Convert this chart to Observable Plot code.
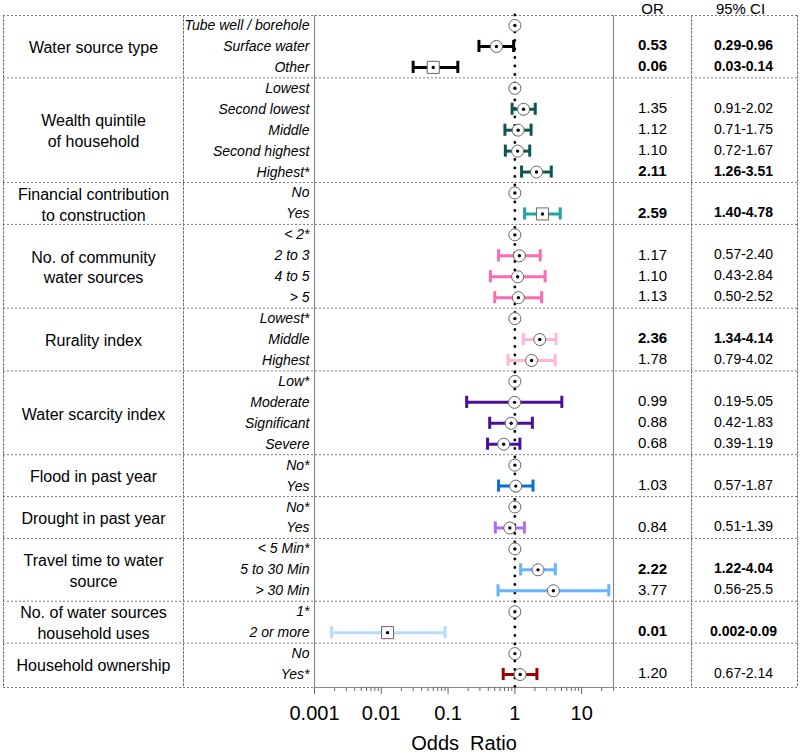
<!DOCTYPE html>
<html><head><meta charset="utf-8">
<script src="https://cdn.jsdelivr.net/npm/d3@7"></script>
<script src="https://cdn.jsdelivr.net/npm/@observablehq/plot@0.6"></script>
<style>html,body{margin:0;padding:0;background:#fff}</style>
</head><body><div id="chart"></div>
<script>
// ---- data ----
const groups = ["Water source type", "Wealth quintile\nof household", "Financial contribution\nto construction",
  "No. of community\nwater sources", "Rurality index", "Water scarcity index", "Flood in past year",
  "Drought in past year", "Travel time to water\nsource", "No. of water sources\nhousehold uses", "Household ownership"];
const groupSizes = [3, 5, 2, 4, 3, 4, 2, 2, 3, 2, 2];
const groupColors = ["#000000", "#0e5656", "#1fa3a3", "#ff69b4", "#ffb6d9", "#4b1099", "#0a6fd6", "#b06cf7", "#66b3ff", "#b8dcff", "#9b0000"];
const levels = ["Tube well / borehole", "Surface water", "Other",
  "Lowest", "Second lowest", "Middle", "Second highest", "Highest*",
  "No", "Yes",
  "< 2*", "2 to 3", "4 to 5", "> 5",
  "Lowest*", "Middle", "Highest",
  "Low*", "Moderate", "Significant", "Severe",
  "No*", "Yes",
  "No*", "Yes",
  "< 5 Min*", "5 to 30 Min", "> 30 Min",
  "1*", "2 or more",
  "No", "Yes*"];
const orValues = [1, 0.53, 0.06, 1, 1.35, 1.12, 1.10, 2.11, 1, 2.59, 1, 1.17, 1.10, 1.13, 1, 2.36, 1.78,
  1, 0.99, 0.88, 0.68, 1, 1.03, 1, 0.84, 1, 2.22, 3.77, 1, 0.0124, 1, 1.20];
const ciLow = [null, 0.29, 0.03, null, 0.91, 0.71, 0.72, 1.26, null, 1.40, null, 0.57, 0.43, 0.50, null, 1.34, 0.79,
  null, 0.19, 0.42, 0.39, null, 0.57, null, 0.51, null, 1.22, 0.56, null, 0.0018, null, 0.67];
const ciHigh = [null, 0.96, 0.14, null, 2.02, 1.75, 1.67, 3.51, null, 4.78, null, 2.40, 2.84, 2.52, null, 4.14, 4.02,
  null, 5.05, 1.83, 1.19, null, 1.87, null, 1.39, null, 4.04, 25.5, null, 0.09, null, 2.14];
const orLabels = ["", "0.53", "0.06", "", "1.35", "1.12", "1.10", "2.11", "", "2.59", "", "1.17", "1.10", "1.13",
  "", "2.36", "1.78", "", "0.99", "0.88", "0.68", "", "1.03", "", "0.84", "", "2.22", "3.77", "", "0.01", "", "1.20"];
const ciLabels = ["", "0.29-0.96", "0.03-0.14", "", "0.91-2.02", "0.71-1.75", "0.72-1.67", "1.26-3.51", "", "1.40-4.78",
  "", "0.57-2.40", "0.43-2.84", "0.50-2.52", "", "1.34-4.14", "0.79-4.02", "", "0.19-5.05", "0.42-1.83", "0.39-1.19",
  "", "0.57-1.87", "", "0.51-1.39", "", "1.22-4.04", "0.56-25.5", "", "0.002-0.09", "", "0.67-2.14"];
const significant = [false, true, true, false, false, false, false, true, false, true, false, false, false, false,
  false, true, false, false, false, false, false, false, false, false, false, false, true, false, false, true, false, false];
const markerShapes = ["circle", "circle", "square", "circle", "circle", "circle", "circle", "circle", "circle", "square",
  "circle", "circle", "circle", "circle", "circle", "circle", "circle", "circle", "circle", "circle", "circle",
  "circle", "circle", "circle", "circle", "circle", "circle", "circle", "circle", "square", "circle", "circle"];
const majorTicks = [0.001, 0.01, 0.1, 1, 10];
const tickLabels = ["0.001", "0.01", "0.1", "1", "10"];
const minorTicks = [2,3,4,5,6,7,8,9,20,30,40,50,60,70,80,90,200,300,400,500,600,700,800,900,2000,3000,4000,5000,6000,7000,8000,9000,20000,30000].map(v => v / 1000);
const xDomain = [0.001, 30];
const headers = ["OR", "95% CI"];
const axisTitle = "Odds\u00a0 Ratio";

// ---- derived tables ----
const groupOf = [];
const starts = [];
groupSizes.forEach((n, g) => { starts.push(groupOf.length); for (let k = 0; k < n; k++) groupOf.push(g); });
const rows = levels.map((label, i) => ({
  i, label, or: orValues[i], lo: ciLow[i], hi: ciHigh[i], orText: orLabels[i], ciText: ciLabels[i],
  bold: significant[i], shape: markerShapes[i], color: groupColors[groupOf[i]]
}));
const bars = rows.filter(d => d.lo != null);
const groupLabels = groups.map((name, g) => ({name, y: starts[g] + (groupSizes[g] - 1) / 2}));
const yDomain = [-0.478, 31.62];
const boundaries = [yDomain[0], ...starts.slice(1).map(s => s - 0.5), yDomain[1]];
const grid = {stroke: "#777", strokeDasharray: "2,2", strokeWidth: 1};
const capH = 0.29;

const chart = Plot.plot({
  width: 800, height: 756,
  marginLeft: 3, marginRight: 3, marginTop: 15, marginBottom: 69,
  style: {fontFamily: "'Liberation Sans', Arial, sans-serif", background: "#fff", color: "#000"},
  x: {type: "log", domain: xDomain, range: [314, 613]},
  y: {domain: yDomain, range: [15, 687], axis: null},
  color: {type: "identity"},
  marks: [
    Plot.ruleY(boundaries, grid),
    Plot.frame({anchor: "left", ...grid}),
    Plot.frame({anchor: "left", insetLeft: 180, ...grid}),
    Plot.frame({anchor: "left", insetLeft: 688, ...grid}),
    Plot.frame({anchor: "right", ...grid}),
    Plot.ruleX(xDomain, {stroke: "#888", strokeWidth: 1.2}),
    Plot.ruleY([yDomain[1]], {x1: xDomain[0], x2: xDomain[1], stroke: "#888", strokeWidth: 1.2}),
    Plot.ruleX([1], {stroke: "#000", strokeWidth: 2.8, strokeDasharray: "0,8.5", strokeLinecap: "round"}),
    // error bars
    Plot.ruleY(bars, {y: "i", x1: "lo", x2: "hi", stroke: "color", strokeWidth: 3}),
    Plot.ruleX(bars, {x: "lo", y1: d => d.i - capH, y2: d => d.i + capH, stroke: "color", strokeWidth: 3}),
    Plot.ruleX(bars, {x: "hi", y1: d => d.i - capH, y2: d => d.i + capH, stroke: "color", strokeWidth: 3}),
    // markers
    Plot.dot(rows.filter(d => d.shape === "circle"), {x: "or", y: "i", r: 6, fill: "#fff", stroke: "#666", strokeWidth: 1}),
    Plot.dot(rows.filter(d => d.shape === "square"), {x: "or", y: "i", r: 6.8, symbol: "square", fill: "#fff", stroke: "#666", strokeWidth: 1}),
    Plot.dot(rows, {x: "or", y: "i", r: 1.7, fill: "#000"}),
    // axis
    Plot.axisX({ticks: minorTicks, tickSize: 4, tickFormat: () => "", stroke: "#666", label: null}),
    Plot.axisX({ticks: majorTicks, tickSize: 7, tickPadding: 11, fontSize: 20, tickFormat: d => tickLabels[majorTicks.indexOf(d)], stroke: "#666", fill: "#000", label: null}),
    Plot.text([axisTitle], {x: () => Math.sqrt(xDomain[0] * xDomain[1]), frameAnchor: "bottom", dy: 62, fontSize: 20, text: d => d}),
    // left table
    Plot.text(groupLabels, {y: "y", text: "name", frameAnchor: "left", dx: 90, textAnchor: "middle", fontSize: 16, lineHeight: 1.31}),
    Plot.text(rows, {y: "i", text: "label", frameAnchor: "left", dx: 306, textAnchor: "end", fontStyle: "italic", fontSize: 14}),
    // right table
    Plot.text([headers[0]], {frameAnchor: "top-left", dx: 649, dy: -6, textAnchor: "middle", lineAnchor: "middle", fontSize: 15, text: d => d}),
    Plot.text([headers[1]], {frameAnchor: "top-left", dx: 737, dy: -6, textAnchor: "middle", lineAnchor: "middle", fontSize: 15, text: d => d}),
    Plot.text(rows.filter(d => d.orText && !d.bold), {y: "i", text: "orText", frameAnchor: "left", dx: 649, dy: -1, textAnchor: "middle", fontSize: 15}),
    Plot.text(rows.filter(d => d.orText && d.bold), {y: "i", text: "orText", frameAnchor: "left", dx: 649, dy: -1, textAnchor: "middle", fontSize: 15, fontWeight: "bold"}),
    Plot.text(rows.filter(d => d.ciText && !d.bold), {y: "i", text: "ciText", frameAnchor: "left", dx: 740, dy: -1, textAnchor: "middle", fontSize: 14}),
    Plot.text(rows.filter(d => d.ciText && d.bold), {y: "i", text: "ciText", frameAnchor: "left", dx: 740, dy: -1, textAnchor: "middle", fontSize: 14, fontWeight: "bold"})
  ]
});
document.getElementById("chart").appendChild(chart);
</script>
</body></html>
